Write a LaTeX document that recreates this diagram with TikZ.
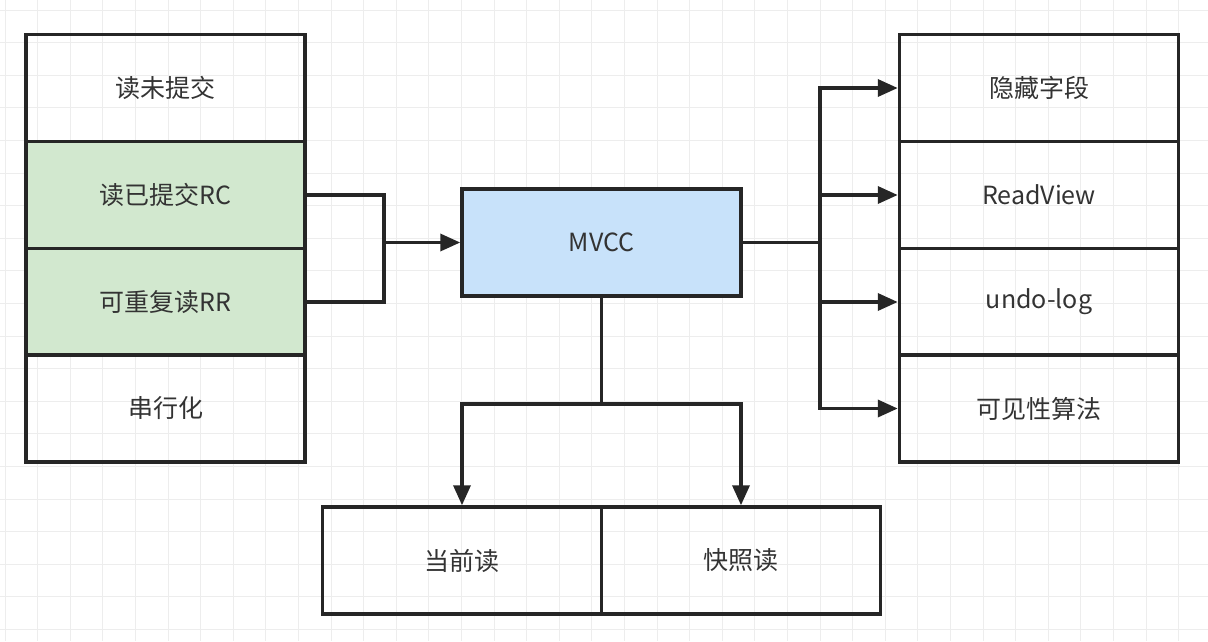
\documentclass[tikz,border=0pt]{standalone}
\usepackage{fontspec}
\setmainfont{Noto Sans CJK SC}
\usetikzlibrary{arrows.meta}
\begin{document}
\begin{tikzpicture}[x=1pt,y=-1pt,
 box/.style={draw=black!85,line width=3.5pt,minimum width=279pt,minimum height=107pt,inner sep=0pt,font=\fontsize{25}{28}\selectfont,text=black!80},
 conn/.style={draw=black!85,line width=3.5pt},
 arr/.style={conn,-{Triangle[length=20pt,width=17pt]}}]
\useasboundingbox (0,0) rectangle (1208,641);
\fill[white] (0,0) rectangle (1208,641);
\foreach \i in {0,...,37} \draw[black!7,line width=1pt] (5+32.6*\i,0) -- (5+32.6*\i,641);
\foreach \j in {0,...,20} \draw[black!7,line width=1pt] (0,10+32.6*\j) -- (1208,10+32.6*\j);
\definecolor{gfill}{HTML}{D2E8CF}
\definecolor{bfill}{HTML}{C8E2FA}
\node[box] (l1) at (165.5,88) {读未提交};
\node[box,fill=gfill] (l2) at (165.5,195) {读已提交RC};
\node[box,fill=gfill] (l3) at (165.5,302) {可重复读RR};
\node[box] (l4) at (165.5,408.5) {串行化};
\node[box,fill=bfill] (m) at (601.5,242.5) {MVCC};
\node[box] (r1) at (1039,88) {隐藏字段};
\node[box] (r2) at (1039,195) {ReadView};
\node[box] (r3) at (1039,302) {undo-log};
\node[box] (r4) at (1039,408.5) {可见性算法};
\node[box] (b1) at (462,560.5) {当前读};
\node[box] (b2) at (741,560.5) {快照读};
\coordinate (jl) at (384,242.5);
\coordinate (jr) at (820,242.5);
\coordinate (jb) at (601.5,404);
\draw[conn] (l2.east) -| (jl) |- (l3.east);
\draw[arr] (jl) -- (m.west);
\draw[conn] (m.east) -- (jr);
\foreach \r in {r1,r2,r3,r4} \draw[arr] (jr) |- (\r.west);
\draw[conn] (m.south) -- (jb);
\draw[arr] (jb) -| (b1.north -| 462,0);
\draw[arr] (jb) -| (b2.north -| 741,0);
\end{tikzpicture}
\end{document}
